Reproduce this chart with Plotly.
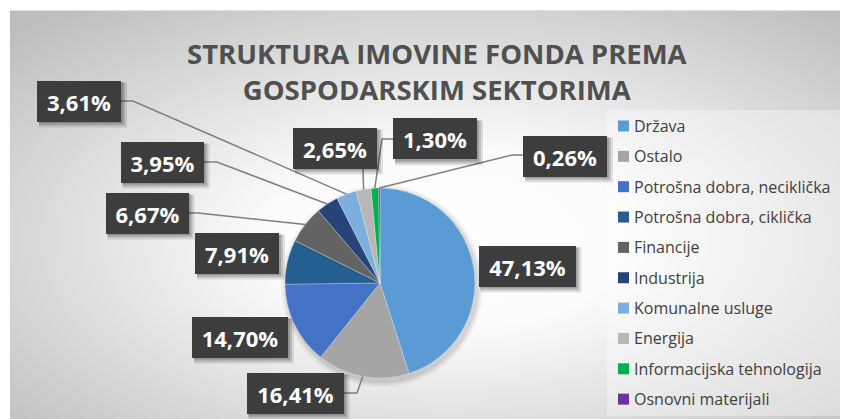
import math
import base64
import plotly.graph_objects as go

# ---------------- data ----------------
categories = [
    "Država",
    "Ostalo",
    "Potrošna dobra, neciklička",
    "Potrošna dobra, ciklička",
    "Financije",
    "Industrija",
    "Komunalne usluge",
    "Energija",
    "Informacijska tehnologija",
    "Osnovni materijali",
]
values = [47.13, 16.41, 14.70, 7.91, 6.67, 3.95, 3.61, 2.65, 1.30, 0.26]
value_labels = [f"{v:.2f}".replace(".", ",") + "%" for v in values]
title_text = "STRUKTURA IMOVINE FONDA PREMA<br>GOSPODARSKIM SEKTORIMA"

# ---------------- styling / layout ----------------
colors = ["#5B9BD5", "#A5A5A5", "#4472C4", "#255E91", "#636363",
          "#264478", "#7CAFDD", "#B7B7B7", "#00B050", "#7030A0"]
W, H = 848, 419
OFF = 8                               # page body margin compensation
PCX, PCY, PR = 380, 283, 95          # pie centre / radius in screen pixels

# label boxes: centre x, centre y, width (screen pixels)
label_boxes = [(527, 266, 97), (295, 393, 97), (240, 337, 96), (237, 253, 84),
               (147, 213, 83), (162, 162, 83), (79, 101, 84), (335, 148, 84),
               (435, 139, 84), (565, 156, 84)]
BOX_H = 41
# leader line start + elbow points (screen pixels); None = no leader
leaders = [None, [(344, 393), (357, 393)], None, None,
           [(188, 213), (198, 213)], [(204, 162), (217, 162)],
           [(121, 101), (133, 101)], [(363, 169)],
           [(393, 139), (382, 139)], [(523, 155), (512, 155)]]


def px(x):
    return (x - OFF) / W


def py(y):
    return 1 - (y - OFF) / H


fig = go.Figure()
fig.add_trace(go.Pie(
    labels=categories, values=values, sort=False, direction="clockwise",
    rotation=0, marker=dict(colors=colors, line=dict(color="rgba(255,255,255,0.45)", width=0.6)),
    textinfo="none", hoverinfo="label+value", showlegend=False,
    domain=dict(x=[px(PCX - PR), px(PCX + PR)], y=[py(PCY + PR), py(PCY - PR)]),
))

shapes = []
annotations = []

# pie shadow (soft)
for extra, op in [(6, 0.04), (4, 0.05), (2, 0.07)]:
    shapes.append(dict(type="circle", xref="paper", yref="paper", layer="below",
                       x0=px(PCX - PR - extra + 2), x1=px(PCX + PR + extra + 2),
                       y0=py(PCY + PR + extra + 3), y1=py(PCY - PR - extra + 3),
                       fillcolor=f"rgba(0,0,0,{op})", line=dict(width=0)))

# leader lines computed from slice angles
total = sum(values)
cum = 0.0
for i, v in enumerate(values):
    mid = (cum + v / 2) / total * 2 * math.pi
    cum += v
    if leaders[i] is None:
        continue
    ex = PCX + PR * math.sin(mid)
    ey = PCY - PR * math.cos(mid)
    pts = leaders[i] + [(ex, ey)]
    path = "M " + " L ".join(f"{px(x):.5f},{py(y):.5f}" for x, y in pts)
    shapes.append(dict(type="path", xref="paper", yref="paper", path=path,
                       line=dict(color="#7f7f7f", width=1.5), layer="above"))

# label boxes with shadows
for i, (cx, cy, w) in enumerate(label_boxes):
    for off, grow, op in [(4, 2, 0.10), (3, 1, 0.14), (2, 0, 0.18)]:
        shapes.append(dict(type="rect", xref="paper", yref="paper", layer="above",
                           x0=px(cx - w / 2 + off - grow), x1=px(cx + w / 2 + off + grow),
                           y0=py(cy + BOX_H / 2 + off + grow), y1=py(cy - BOX_H / 2 + off - grow),
                           fillcolor=f"rgba(0,0,0,{op})", line=dict(width=0)))
    annotations.append(dict(
        x=px(cx), y=py(cy), xref="paper", yref="paper", xanchor="center", yanchor="middle",
        text=f"<b>{value_labels[i]}</b>", showarrow=False, width=w, height=BOX_H,
        bgcolor="#3d3d3d", borderpad=0, borderwidth=0,
        font=dict(family="Open Sans", size=22, color="#ffffff")))

# title
annotations.append(dict(
    x=px(437), y=py(71), xref="paper", yref="paper", xanchor="center", yanchor="middle",
    text=f"<b>{title_text}</b>", showarrow=False,
    font=dict(family="Open Sans", size=27.5, color="#505050")))

# legend (manual)
LX0, LY0, LDY = 618, 126, 30.35
shapes.append(dict(type="rect", xref="paper", yref="paper", layer="below",
                   x0=px(607), x1=px(860), y0=py(416), y1=py(110),
                   fillcolor="rgba(255,255,255,0.35)", line=dict(width=0)))
for i, name in enumerate(categories):
    yc = LY0 + i * LDY
    shapes.append(dict(type="rect", xref="paper", yref="paper", layer="above",
                       x0=px(LX0), x1=px(LX0 + 11), y0=py(yc + 5.5), y1=py(yc - 5.5),
                       fillcolor=colors[i], line=dict(width=0)))
    annotations.append(dict(
        x=px(LX0 + 14), y=py(yc), xref="paper", yref="paper", xanchor="left", yanchor="middle",
        text=name, showarrow=False,
        font=dict(family="Open Sans", size=16, color="#404040")))

# background gradient
svg = ('<svg xmlns="http://www.w3.org/2000/svg" width="846" height="417">'
       '<defs><radialGradient id="g" cx="0.52" cy="0.55" r="0.72">'
       '<stop offset="0" stop-color="#ffffff"/><stop offset="0.3" stop-color="#fbfbfb"/>'
       '<stop offset="1" stop-color="#bdbdbd"/></radialGradient></defs>'
       '<rect width="846" height="417" fill="url(#g)"/>'
       '<line x1="0" y1="0.5" x2="846" y2="0.5" stroke="#e0e0e0" stroke-width="1"/></svg>')
src = "data:image/svg+xml;base64," + base64.b64encode(svg.encode()).decode()

fig.update_layout(
    width=W, height=H, margin=dict(l=0, r=0, t=0, b=0),
    paper_bgcolor="#ffffff", plot_bgcolor="#ffffff",
    shapes=shapes, annotations=annotations, showlegend=False,
    images=[dict(source=src, xref="paper", yref="paper", x=px(10), y=py(10),
                 sizex=846 / W, sizey=417 / H, xanchor="left", yanchor="top",
                 sizing="stretch", layer="below")],
)

fig.write_html("out.html")
